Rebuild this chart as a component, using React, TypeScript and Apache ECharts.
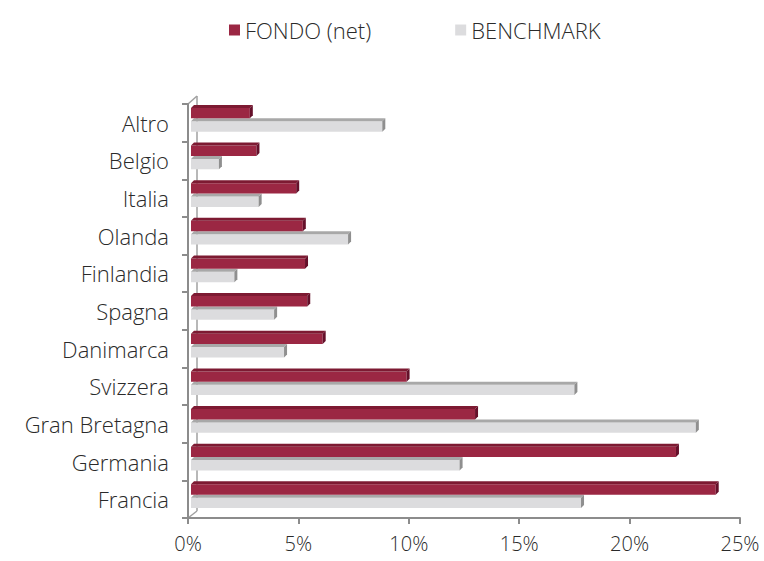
import React, { useEffect, useRef } from "react";
import * as echarts from "echarts";

const categories = ["Francia", "Germania", "Gran Bretagna", "Svizzera", "Danimarca", "Spagna", "Finlandia", "Olanda", "Italia", "Belgio", "Altro"];
const fondo = [23.9, 22.1, 13.0, 9.9, 6.1, 5.4, 5.3, 5.2, 4.9, 3.1, 2.8];
const benchmark = [17.8, 12.3, 23.0, 17.5, 4.35, 3.9, 2.1, 7.25, 3.2, 1.4, 8.8];
const xTicks = [0, 5, 10, 15, 20, 25];

const FONT = "Open Sans";
const WEIGHT = 300;

function makeRender(slot: number, face: string, topC: string, side: string) {
  return (_p: any, api: any) => {
    const cat = api.value(1);
    const v = api.value(0);
    const p0 = api.coord([0, cat]);
    const p1 = api.coord([v, cat]);
    const bh = api.size([0, 1])[1];
    const bandTop = p0[1] - bh / 2;
    const h = bh * 0.355;
    const y0 = bandTop + bh * 0.025 + slot * h;
    const d = 3;
    const x0 = p0[0] + 3;
    const x1 = p1[0];
    return {
      type: "group",
      children: [
        { type: "rect", shape: { x: x0, y: y0 + d, width: x1 - x0, height: h - d }, style: { fill: face } },
        { type: "polygon", shape: { points: [[x0, y0 + d], [x0 + d, y0], [x1 + d, y0], [x1, y0 + d]] }, style: { fill: topC } },
        { type: "polygon", shape: { points: [[x1, y0 + d], [x1 + d, y0], [x1 + d, y0 + h - d], [x1, y0 + h]] }, style: { fill: side } },
      ],
    };
  };
}

export default function App() {
  const ref = useRef<HTMLDivElement>(null);
  useEffect(() => {
    if (!ref.current) return;
    const chart = echarts.init(ref.current, undefined, { renderer: "svg" });
    chart.setOption({
      animation: false,
      backgroundColor: "#ffffff",
      legend: {
        left: 229,
        top: 19,
        padding: 0,
        itemWidth: 11,
        itemHeight: 11,
        itemGap: 84,
        textStyle: { fontFamily: FONT, fontWeight: WEIGHT, fontSize: 22, color: "#2a2a2a" },
        data: [
          { name: "FONDO (net)", icon: "rect" },
          { name: "BENCHMARK", icon: "rect" },
        ],
      },
      grid: { left: 188, right: 24, top: 104, bottom: 43 },
      xAxis: {
        type: "value",
        min: 0,
        max: xTicks[xTicks.length - 1],
        interval: 5,
        splitLine: { show: false },
        axisLine: { show: true, lineStyle: { color: "#8c8c8c", width: 2 } },
        axisTick: { show: true, length: 6, lineStyle: { color: "#8c8c8c", width: 2 } },
        axisLabel: { formatter: "{value}%", fontFamily: FONT, fontWeight: WEIGHT, fontSize: 20, color: "#2a2a2a", margin: 15 },
      },
      yAxis: {
        type: "category",
        data: categories,
        axisLine: { show: true, lineStyle: { color: "#8c8c8c", width: 2 } },
        axisTick: { show: true, length: 6, lineStyle: { color: "#8c8c8c", width: 2 } },
        axisLabel: { fontFamily: FONT, fontWeight: WEIGHT, fontSize: 22, color: "#2a2a2a", margin: 19 },
      },
      graphic: [
        { type: "line", shape: { x1: 188, y1: 104, x2: 197, y2: 96 }, style: { stroke: "#a0a0a0", lineWidth: 1.5 }, z: 0 },
        { type: "line", shape: { x1: 197, y1: 96, x2: 197, y2: 511 }, style: { stroke: "#a0a0a0", lineWidth: 1.5 }, z: 0 },
        { type: "line", shape: { x1: 188, y1: 518, x2: 197, y2: 511 }, style: { stroke: "#a0a0a0", lineWidth: 1.5 }, z: 0 },
      ],
      series: [
        {
          name: "FONDO (net)",
          type: "custom",
          itemStyle: { color: "#9b2743" },
          encode: { x: 0, y: 1 },
          data: fondo.map((v, i) => [v, i]),
          renderItem: makeRender(0, "#9b2743", "#7d1a32", "#65102a"),
          z: 3,
        },
        {
          name: "BENCHMARK",
          type: "custom",
          itemStyle: { color: "#dcdcde" },
          encode: { x: 0, y: 1 },
          data: benchmark.map((v, i) => [v, i]),
          renderItem: makeRender(1, "#dcdcde", "#a8a8a8", "#8f8f8f"),
          z: 2,
        },
      ],
    });
    return () => chart.dispose();
  }, []);
  return <div ref={ref} style={{ width: 764, height: 561, position: "absolute", left: 0, top: 0 }} />;
}
